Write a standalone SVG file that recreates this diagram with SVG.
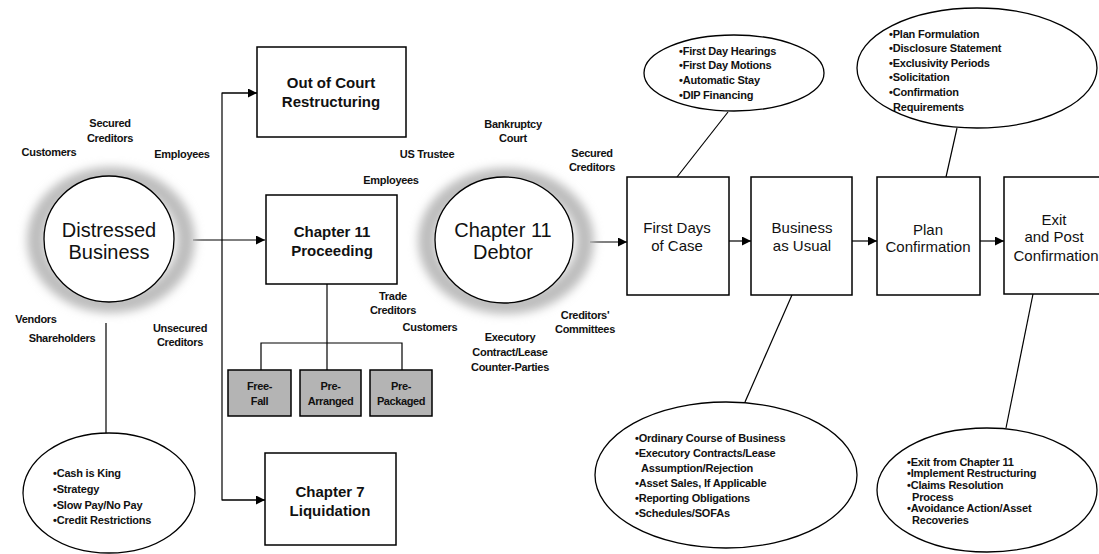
<svg xmlns="http://www.w3.org/2000/svg" width="1099" height="554" viewBox="0 0 1099 554">
<defs>
<filter id="blur" x="-30%" y="-30%" width="160%" height="160%">
<feGaussianBlur stdDeviation="5"/>
</filter>
<marker id="arr" viewBox="0 0 10 10" refX="10" refY="5" markerWidth="9" markerHeight="9" markerUnits="userSpaceOnUse" orient="auto">
<path d="M0,0 L10,5 L0,10 z" fill="#000"/>
</marker>
</defs>
<style>
.halo{fill:none;stroke:#bdbdbd;stroke-width:18;filter:url(#blur)}
.box{fill:#fff;stroke:#000;stroke-width:1.5}
.gbox{fill:#b4b4b4;stroke:#000;stroke-width:1.5}
.ell{fill:#fff;stroke:#000;stroke-width:1.3}
.ln{fill:none;stroke:#000;stroke-width:1.2}
.big{font-family:"Liberation Sans",Arial,sans-serif;font-size:20px;text-anchor:middle;fill:#111}
.nb{font-family:"Liberation Sans",Arial,sans-serif;font-size:15px;font-weight:bold;text-anchor:middle;fill:#111}
.nr{font-family:"Liberation Sans",Arial,sans-serif;font-size:15px;text-anchor:middle;fill:#111}
.lb{font-family:"Liberation Sans",Arial,sans-serif;font-size:11px;font-weight:bold;text-anchor:middle;fill:#111;letter-spacing:-0.3px}
.bl{font-family:"Liberation Sans",Arial,sans-serif;font-size:11px;font-weight:bold;fill:#111;letter-spacing:-0.2px}
.sm{font-family:"Liberation Sans",Arial,sans-serif;font-size:11px;font-weight:bold;text-anchor:middle;fill:#111;letter-spacing:-0.4px}
</style>
<rect width="1099" height="554" fill="#fff"/>

<g id="connectors">
<line class="ln" x1="193" y1="240" x2="265" y2="240" marker-end="url(#arr)"/>
<polyline class="ln" points="257,93 222,93 222,500 265,500"/>
<line class="ln" x1="222" y1="93" x2="257" y2="93" marker-end="url(#arr)"/>
<line class="ln" x1="222" y1="500" x2="265" y2="500" marker-end="url(#arr)"/>
<line class="ln" x1="327" y1="284" x2="327" y2="370"/>
<polyline class="ln" points="261,370 261,343 402,343 402,370"/>
<line class="ln" x1="106" y1="323" x2="106" y2="433"/>
<line class="ln" x1="590" y1="242" x2="627" y2="242" marker-end="url(#arr)"/>
<line class="ln" x1="729" y1="241" x2="751" y2="241" marker-end="url(#arr)"/>
<line class="ln" x1="852" y1="241" x2="877" y2="241" marker-end="url(#arr)"/>
<line class="ln" x1="980" y1="241" x2="1004" y2="241" marker-end="url(#arr)"/>
<line class="ln" x1="728" y1="112" x2="677" y2="177"/>
<line class="ln" x1="957" y1="128" x2="946" y2="177"/>
<line class="ln" x1="792" y1="295" x2="745" y2="402"/>
<line class="ln" x1="1033" y1="294" x2="1006" y2="428"/>
</g>

<g id="distressed">
<ellipse class="halo" cx="111" cy="240" rx="75" ry="64"/>
<ellipse class="ell" cx="109" cy="239" rx="65" ry="63"/>
<text class="big" x="109" y="237">Distressed</text>
<text class="big" x="109" y="259">Business</text>
</g>

<g id="distressed-labels">
<text class="lb" x="110" y="127">Secured</text>
<text class="lb" x="110" y="142">Creditors</text>
<text class="lb" x="49" y="156">Customers</text>
<text class="lb" x="182" y="158">Employees</text>
<text class="lb" x="36" y="323">Vendors</text>
<text class="lb" x="62" y="342">Shareholders</text>
<text class="lb" x="180" y="332">Unsecured</text>
<text class="lb" x="180" y="346">Creditors</text>
</g>

<g id="cash">
<ellipse class="ell" cx="109" cy="493" rx="86" ry="60"/>
<text class="bl" x="53" y="477">•Cash is King</text>
<text class="bl" x="53" y="493">•Strategy</text>
<text class="bl" x="53" y="509">•Slow Pay/No Pay</text>
<text class="bl" x="53" y="524">•Credit Restrictions</text>
</g>

<g id="out-of-court">
<rect class="box" x="257" y="47" width="149" height="90"/>
<text class="nb" x="331" y="88">Out of Court</text>
<text class="nb" x="331" y="107">Restructuring</text>
</g>

<g id="chapter11-proceeding">
<rect class="box" x="266" y="195" width="131" height="89"/>
<text class="nb" x="332" y="237">Chapter 11</text>
<text class="nb" x="332" y="256">Proceeding</text>
</g>

<g id="free-fall">
<rect class="gbox" x="228" y="370" width="63" height="46"/>
<text class="sm" x="259.5" y="390">Free-</text>
<text class="sm" x="259.5" y="405">Fall</text>
</g>
<g id="pre-arranged">
<rect class="gbox" x="300" y="370" width="61" height="46"/>
<text class="sm" x="330.5" y="390">Pre-</text>
<text class="sm" x="330.5" y="405">Arranged</text>
</g>
<g id="pre-packaged">
<rect class="gbox" x="370" y="370" width="62" height="46"/>
<text class="sm" x="401" y="390">Pre-</text>
<text class="sm" x="401" y="405">Packaged</text>
</g>

<g id="chapter7">
<rect class="box" x="265" y="453" width="131" height="92"/>
<text class="nb" x="330" y="497">Chapter 7</text>
<text class="nb" x="330" y="516">Liquidation</text>
</g>

<g id="debtor">
<ellipse class="halo" cx="506" cy="241" rx="79" ry="64"/>
<ellipse class="ell" cx="504" cy="240" rx="69" ry="63"/>
<text class="big" x="503" y="237">Chapter 11</text>
<text class="big" x="503" y="259">Debtor</text>
</g>

<g id="debtor-labels">
<text class="lb" x="513" y="128">Bankruptcy</text>
<text class="lb" x="513" y="142">Court</text>
<text class="lb" x="427" y="158">US Trustee</text>
<text class="lb" x="391" y="184">Employees</text>
<text class="lb" x="592" y="157">Secured</text>
<text class="lb" x="592" y="171">Creditors</text>
<text class="lb" x="393" y="300">Trade</text>
<text class="lb" x="393" y="314">Creditors</text>
<text class="lb" x="430" y="331">Customers</text>
<text class="lb" x="585" y="319">Creditors'</text>
<text class="lb" x="585" y="333">Committees</text>
<text class="lb" x="510" y="341">Executory</text>
<text class="lb" x="510" y="356">Contract/Lease</text>
<text class="lb" x="510" y="371">Counter-Parties</text>
</g>

<g id="first-days">
<rect class="box" x="627" y="177" width="102" height="118"/>
<text class="nr" x="677" y="233">First Days</text>
<text class="nr" x="677" y="251">of Case</text>
</g>

<g id="business-usual">
<rect class="box" x="751" y="177" width="101" height="118"/>
<text class="nr" x="802" y="233">Business</text>
<text class="nr" x="802" y="251">as Usual</text>
</g>

<g id="plan-confirmation">
<rect class="box" x="877" y="177" width="103" height="118"/>
<text class="nr" x="928" y="235">Plan</text>
<text class="nr" x="928" y="252">Confirmation</text>
</g>

<g id="exit">
<rect class="box" x="1004" y="177" width="100" height="117"/>
<text class="nr" x="1054" y="225">Exit</text>
<text class="nr" x="1054" y="242">and Post</text>
<text class="nr" x="1056" y="261">Confirmation</text>
</g>

<g id="first-day-notes">
<ellipse class="ell" cx="734" cy="73" rx="90" ry="38"/>
<text class="bl" x="679" y="55">•First Day Hearings</text>
<text class="bl" x="679" y="69">•First Day Motions</text>
<text class="bl" x="679" y="84">•Automatic Stay</text>
<text class="bl" x="679" y="99">•DIP Financing</text>
</g>

<g id="plan-notes">
<ellipse class="ell" cx="977" cy="68" rx="120" ry="60"/>
<text class="bl" x="889" y="38">•Plan Formulation</text>
<text class="bl" x="889" y="52">•Disclosure Statement</text>
<text class="bl" x="889" y="67">•Exclusivity Periods</text>
<text class="bl" x="889" y="81">•Solicitation</text>
<text class="bl" x="889" y="96">•Confirmation</text>
<text class="bl" x="893" y="111">Requirements</text>
</g>

<g id="business-notes">
<ellipse class="ell" cx="726" cy="475" rx="131" ry="73"/>
<text class="bl" x="635" y="442">•Ordinary Course of Business</text>
<text class="bl" x="635" y="457">•Executory Contracts/Lease</text>
<text class="bl" x="641" y="472">Assumption/Rejection</text>
<text class="bl" x="635" y="487">•Asset Sales, If Applicable</text>
<text class="bl" x="635" y="502">•Reporting Obligations</text>
<text class="bl" x="635" y="517">•Schedules/SOFAs</text>
</g>

<g id="exit-notes">
<ellipse class="ell" cx="987" cy="490" rx="110" ry="62"/>
<text class="bl" x="907" y="466">•Exit from Chapter 11</text>
<text class="bl" x="907" y="477">•Implement Restructuring</text>
<text class="bl" x="907" y="489">•Claims Resolution</text>
<text class="bl" x="912" y="501">Process</text>
<text class="bl" x="907" y="512">•Avoidance Action/Asset</text>
<text class="bl" x="912" y="524">Recoveries</text>
</g>
</svg>
